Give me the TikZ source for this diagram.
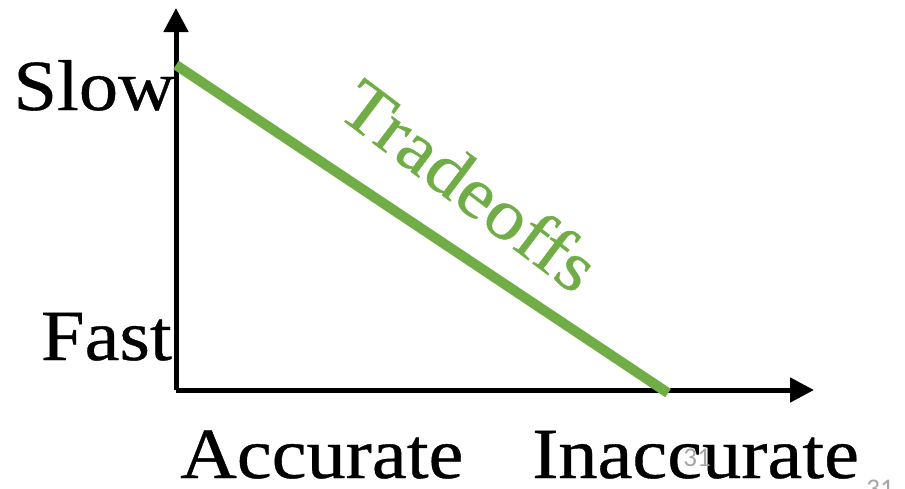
\documentclass[tikz,border=0pt]{standalone}
\usepackage{fontspec}
\setmainfont{Liberation Serif}[FakeStretch=1.09, FakeBold=0.5]
\newfontfamily\numfont{Carlito}
\usetikzlibrary{arrows.meta,positioning}
\definecolor{tradegreen}{RGB}{112,173,71}
\definecolor{pagegray}{RGB}{165,165,165}

\begin{document}
\begin{tikzpicture}[
  x=1pt, y=-1pt,
  axis/.style={draw=black, line width=5pt, -{Triangle[length=24pt, width=24pt]}},
  tradeline/.style={draw=tradegreen, line width=10pt},
  axislabel/.style={font=\fontsize{72}{80}\selectfont, text=black, inner sep=0pt},
  tradelabel/.style={font=\fontsize{72}{80}\selectfont, text=tradegreen, inner sep=0pt},
  pagenum/.style={font=\numfont\fontsize{27}{30}\selectfont, text=pagegray, inner sep=0pt}
]
  \useasboundingbox (0,0) rectangle (905,488);

  \coordinate (origin) at (176,390);
  \coordinate (ytop) at (176,8);
  \coordinate (xend) at (814,390);
  \coordinate (slowpt) at (176,65);
  \coordinate (fastpt) at (668,393);

  \draw[axis] (origin) -- (ytop);
  \draw[axis] (origin) -- (xend);
  \draw[tradeline] (slowpt) -- (fastpt);

  \node[axislabel, anchor=base east] (slow) at (175,110) {Slow};
  \node[axislabel, anchor=base east] (fast) at (172,360) {Fast};
  \node[axislabel, anchor=base west] (accurate) at (180,478) {Accurate};
  \node[axislabel, anchor=base west] (inaccurate) at (532,478) {Inaccurate};
  \node[tradelabel, rotate=-37] (tradeoffs) at (470,185) {Tradeoffs};

  \node[pagenum] (num1) at (697,458) {31};
  \node[pagenum] (num2) at (880,489) {31};
\end{tikzpicture}
\end{document}
